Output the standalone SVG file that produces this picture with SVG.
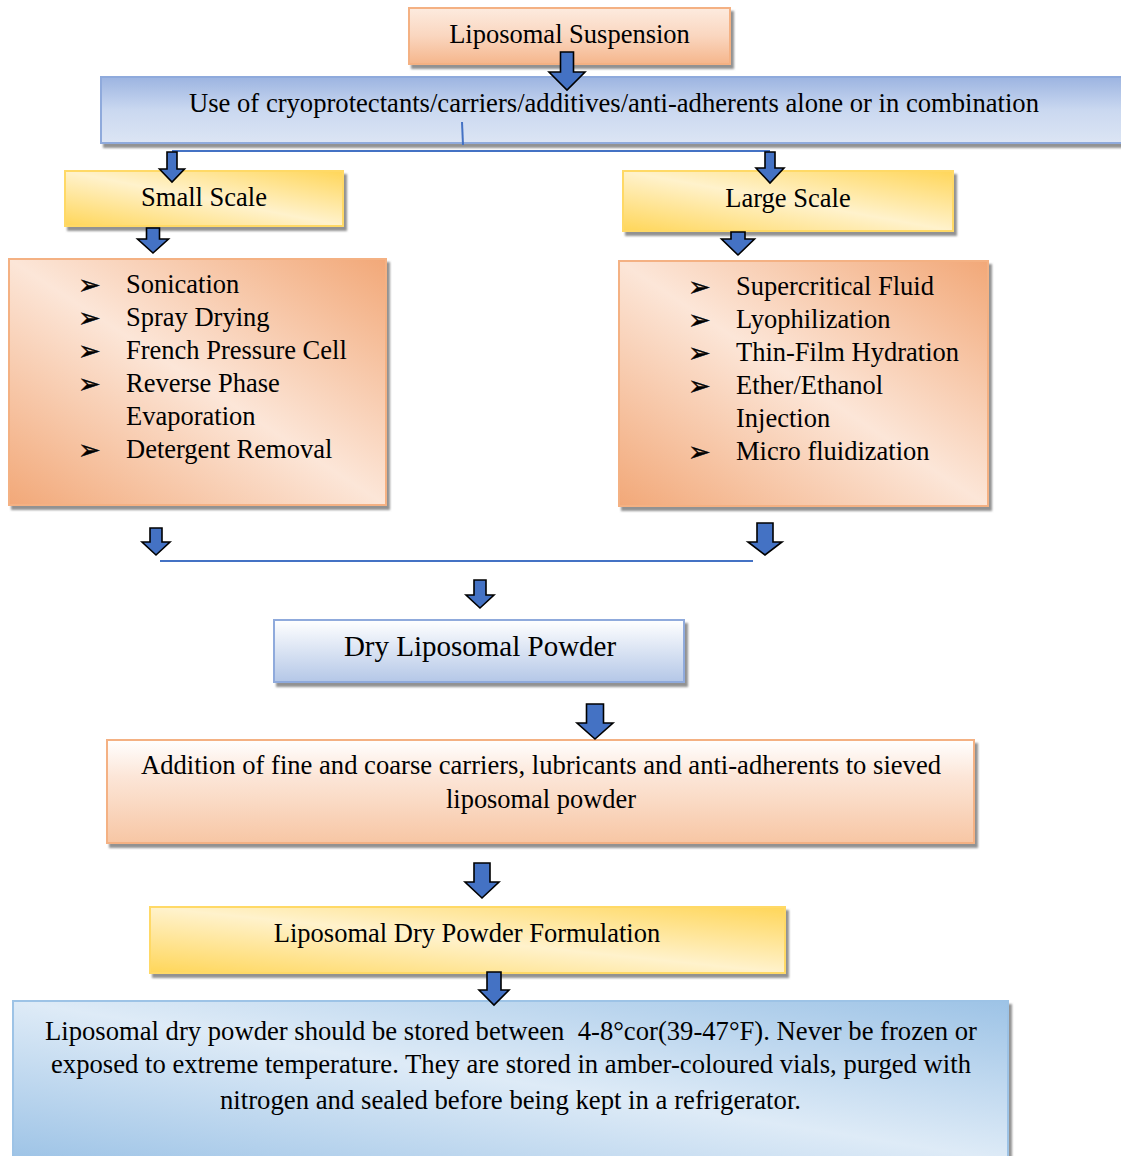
<svg xmlns="http://www.w3.org/2000/svg" width="1121" height="1156" viewBox="0 0 1121 1156">
<style>
  .t { font-family: "Liberation Serif", "Times New Roman", serif; font-size: 26.5px; fill: #000; }
  .c { text-anchor: middle; }
  .b { font-family: "DejaVu Sans", sans-serif; font-size: 27px; fill: #000; stroke: #000; stroke-width: 0.4; }
  .arrow { fill: #4472C4; stroke: #000; stroke-width: 1.6; stroke-linejoin: miter; }
  .ln { stroke: #4472C4; stroke-width: 2; fill: none; }
  .box { filter: url(#sh); }
</style>
<defs>
  <filter id="sh" x="-5%" y="-10%" width="115%" height="130%">
    <feDropShadow dx="3" dy="4" stdDeviation="1.2" flood-color="#7f7f7f" flood-opacity="0.85"/>
  </filter>
  <linearGradient id="orV" x1="0" y1="0" x2="0" y2="1">
    <stop offset="0" stop-color="#FDEBDF"/>
    <stop offset="0.5" stop-color="#FAD6BF"/>
    <stop offset="1" stop-color="#F5B68C"/>
  </linearGradient>
  <linearGradient id="orV2" x1="0" y1="0" x2="0" y2="1">
    <stop offset="0" stop-color="#FFFFFF"/>
    <stop offset="0.35" stop-color="#FCE6D8"/>
    <stop offset="1" stop-color="#F7C6A4"/>
  </linearGradient>
  <linearGradient id="orD" x1="1" y1="0" x2="0" y2="1">
    <stop offset="0" stop-color="#F2A878"/>
    <stop offset="0.5" stop-color="#FCE6D8"/>
    <stop offset="1" stop-color="#F2A878"/>
  </linearGradient>
  <linearGradient id="yeD" x1="1" y1="0" x2="0" y2="1">
    <stop offset="0" stop-color="#FFD659"/>
    <stop offset="0.5" stop-color="#FFF2CC"/>
    <stop offset="1" stop-color="#FFD659"/>
  </linearGradient>
  <linearGradient id="blV" x1="0" y1="0" x2="0" y2="1">
    <stop offset="0" stop-color="#9CB4E1"/>
    <stop offset="0.5" stop-color="#CAD8F0"/>
    <stop offset="1" stop-color="#DCE5F4"/>
  </linearGradient>
  <linearGradient id="blV2" x1="0" y1="0" x2="0" y2="1">
    <stop offset="0" stop-color="#FFFFFF"/>
    <stop offset="1" stop-color="#B4C7E7"/>
  </linearGradient>
  <linearGradient id="blD" x1="1" y1="0" x2="0" y2="1">
    <stop offset="0" stop-color="#9DC3E6"/>
    <stop offset="0.5" stop-color="#DEEBF7"/>
    <stop offset="1" stop-color="#9DC3E6"/>
  </linearGradient>
</defs>

<g id="node-suspension">
  <rect class="box" x="409" y="8" width="321" height="56" fill="url(#orV)" stroke="#F4B183" stroke-width="2"/>
  <text class="t c" x="569.5" y="43">Liposomal Suspension</text>
</g>

<g id="node-cryo">
  <rect class="box" x="101" y="77" width="1025" height="66" fill="url(#blV)" stroke="#8FAADC" stroke-width="2"/>
  <text class="t" x="189" y="112" textLength="850" lengthAdjust="spacingAndGlyphs">Use of cryoprotectants/carriers/additives/anti-adherents alone or in combination</text>
</g>

<g id="node-small">
  <rect class="box" x="65" y="171" width="278" height="55" fill="url(#yeD)" stroke="#FFD966" stroke-width="2"/>
  <text class="t c" x="204" y="206">Small Scale</text>
</g>

<g id="node-large">
  <rect class="box" x="623" y="171" width="330" height="60" fill="url(#yeD)" stroke="#FFD966" stroke-width="2"/>
  <text class="t c" x="788" y="207">Large Scale</text>
</g>

<g id="node-small-list">
  <rect class="box" x="9" y="259" width="377" height="246" fill="url(#orD)" stroke="#F4B183" stroke-width="2"/>
  <text class="b" x="78" y="294">➢</text>
  <text class="b" x="78" y="327">➢</text>
  <text class="b" x="78" y="360">➢</text>
  <text class="b" x="78" y="393">➢</text>
  <text class="b" x="78" y="459">➢</text>
  <text class="t" x="126" y="293">Sonication</text>
  <text class="t" x="126" y="326">Spray Drying</text>
  <text class="t" x="126" y="359">French Pressure Cell</text>
  <text class="t" x="126" y="392">Reverse Phase</text>
  <text class="t" x="126" y="425">Evaporation</text>
  <text class="t" x="126" y="458">Detergent Removal</text>
</g>

<g id="node-large-list">
  <rect class="box" x="619" y="261" width="369" height="245" fill="url(#orD)" stroke="#F4B183" stroke-width="2"/>
  <text class="b" x="688" y="296">➢</text>
  <text class="b" x="688" y="329">➢</text>
  <text class="b" x="688" y="362">➢</text>
  <text class="b" x="688" y="395">➢</text>
  <text class="b" x="688" y="461">➢</text>
  <text class="t" x="736" y="295">Supercritical Fluid</text>
  <text class="t" x="736" y="328">Lyophilization</text>
  <text class="t" x="736" y="361">Thin-Film Hydration</text>
  <text class="t" x="736" y="394">Ether/Ethanol</text>
  <text class="t" x="736" y="427">Injection</text>
  <text class="t" x="736" y="460">Micro fluidization</text>
</g>

<g id="node-dry">
  <rect class="box" x="274" y="620" width="410" height="62" fill="url(#blV2)" stroke="#8FAADC" stroke-width="2"/>
  <text class="t c" x="480" y="656" style="font-size:29px">Dry Liposomal Powder</text>
</g>

<g id="node-addition">
  <rect class="box" x="107" y="740" width="867" height="103" fill="url(#orV2)" stroke="#F4B183" stroke-width="2"/>
  <text class="t" x="141" y="774" textLength="800" lengthAdjust="spacingAndGlyphs">Addition of fine and coarse carriers, lubricants and anti-adherents to sieved</text>
  <text class="t" x="446" y="808" textLength="190" lengthAdjust="spacingAndGlyphs">liposomal powder</text>
</g>

<g id="node-formulation">
  <rect class="box" x="150" y="907" width="635" height="66" fill="url(#yeD)" stroke="#FFD966" stroke-width="2"/>
  <text class="t c" x="467" y="942">Liposomal Dry Powder Formulation</text>
</g>

<g id="node-storage">
  <rect class="box" x="13" y="1001" width="995" height="160" fill="url(#blD)" stroke="#9DC3E6" stroke-width="2"/>
  <text class="t" x="45" y="1040" textLength="932" lengthAdjust="spacingAndGlyphs" xml:space="preserve">Liposomal dry powder should be stored between  4-8°cor(39-47°F). Never be frozen or</text>
  <text class="t" x="51" y="1073" textLength="920" lengthAdjust="spacingAndGlyphs">exposed to extreme temperature. They are stored in amber-coloured vials, purged with</text>
  <text class="t" x="220" y="1109" textLength="581" lengthAdjust="spacingAndGlyphs">nitrogen and sealed before being kept in a refrigerator.</text>
</g>

<g id="connectors">
  <line class="ln" x1="462" y1="122" x2="463" y2="145"/>
  <line class="ln" x1="172" y1="151" x2="770" y2="151"/>
  <line class="ln" x1="160" y1="561" x2="753" y2="561"/>
  <path class="arrow" d="M560.5 52 H573.5 V72 H585 L567 90 L549 72 H560.5 Z"/>
  <path class="arrow" d="M167 152 H177 V169 H184.5 L172 182 L159.5 169 H167 Z"/>
  <path class="arrow" d="M765 152 H775 V168 H784 L770 183 L756 168 H765 Z"/>
  <path class="arrow" d="M146.5 228 H159.5 V239 H168.5 L153 253 L137.5 239 H146.5 Z"/>
  <path class="arrow" d="M731 232 H745 V239 H754.5 L738 255 L721.5 239 H731 Z"/>
  <path class="arrow" d="M150 528 H162 V542 H170 L156 555 L142 542 H150 Z"/>
  <path class="arrow" d="M757 523 H773 V542 H782 L765 555 L748 542 H757 Z"/>
  <path class="arrow" d="M474 580 H486 V595 H494 L480 608 L466 595 H474 Z"/>
  <path class="arrow" d="M586.5 704 H603.5 V723 H613 L595 739 L577 723 H586.5 Z"/>
  <path class="arrow" d="M474 863 H490 V882 H499 L482 898 L465 882 H474 Z"/>
  <path class="arrow" d="M487 972 H501 V990 H509 L494 1005 L479 990 H487 Z"/>
</g>
</svg>
